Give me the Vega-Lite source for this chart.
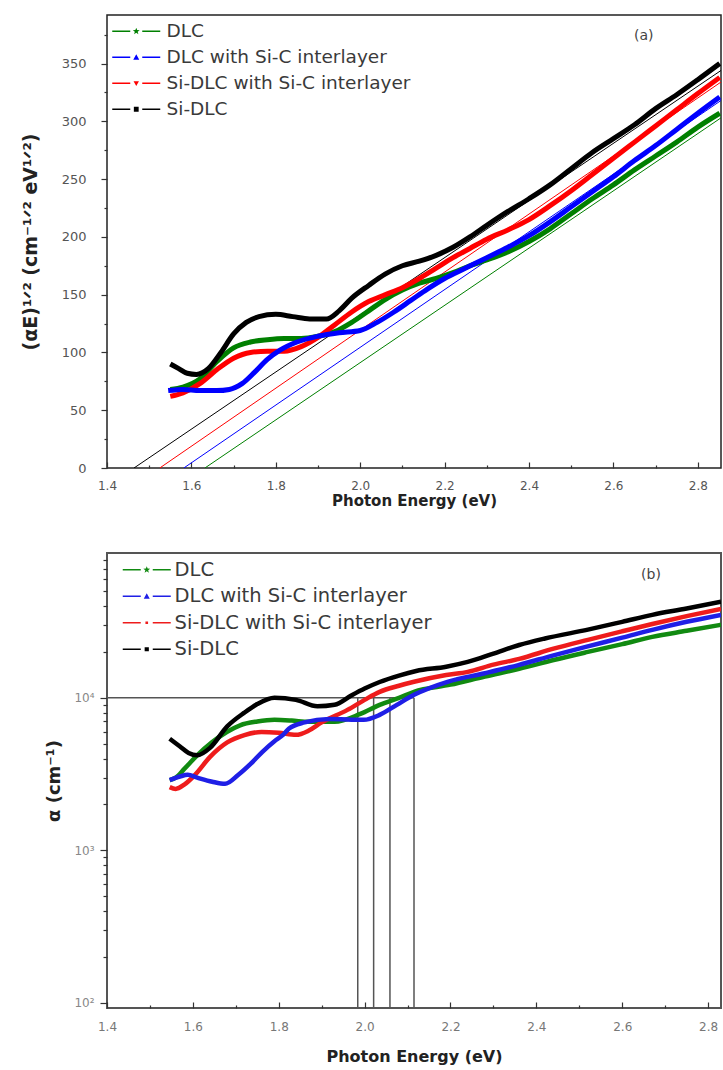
{
"$schema": "https://vega.github.io/schema/vega-lite/v6.json",
"padding": {"left": 20, "top": 14, "right": 0, "bottom": 0},
"background": "white",
"spacing": 43,
"config": {
  "font": "DejaVu Sans",
  "axis": {"domain": false, "grid": false, "labelFont": "DejaVu Sans", "titleFont": "DejaVu Sans", "labelColor": "#555", "titleColor": "#222", "tickColor": "#333", "tickWidth": 1.2, "labelFlush": false, "labelOverlap": false}
},
"resolve": {"scale": {"color": "independent", "shape": "independent", "stroke": "independent"}, "legend": {"color": "independent", "shape": "independent"}},
"datasets": {
  "topfit": [
    {"s": "DLC", "x": 1.632, "y": 0}, {"s": "DLC", "x": 2.855, "y": 303},
    {"s": "Si-DLC with Si-C interlayer", "x": 1.525, "y": 0}, {"s": "Si-DLC with Si-C interlayer", "x": 2.855, "y": 334},
    {"s": "DLC with Si-C interlayer", "x": 1.582, "y": 0}, {"s": "DLC with Si-C interlayer", "x": 2.855, "y": 318},
    {"s": "Si-DLC", "x": 1.464, "y": 0}, {"s": "Si-DLC", "x": 2.855, "y": 344}
  ],
  "top": [
    {"s":"DLC","x":1.55,"y":68},{"s":"DLC","x":1.58,"y":70},{"s":"DLC","x":1.62,"y":77},{"s":"DLC","x":1.66,"y":92},{"s":"DLC","x":1.70,"y":104},{"s":"DLC","x":1.74,"y":109},{"s":"DLC","x":1.78,"y":111},{"s":"DLC","x":1.82,"y":112},{"s":"DLC","x":1.86,"y":112},{"s":"DLC","x":1.90,"y":114},{"s":"DLC","x":1.94,"y":118},{"s":"DLC","x":1.98,"y":126},{"s":"DLC","x":2.02,"y":136},{"s":"DLC","x":2.06,"y":146},{"s":"DLC","x":2.10,"y":154},{"s":"DLC","x":2.14,"y":160},{"s":"DLC","x":2.18,"y":164},{"s":"DLC","x":2.22,"y":169},{"s":"DLC","x":2.26,"y":175},{"s":"DLC","x":2.30,"y":180},{"s":"DLC","x":2.35,"y":187},{"s":"DLC","x":2.40,"y":196},{"s":"DLC","x":2.45,"y":207},{"s":"DLC","x":2.50,"y":220},{"s":"DLC","x":2.55,"y":233},{"s":"DLC","x":2.60,"y":245},{"s":"DLC","x":2.65,"y":258},{"s":"DLC","x":2.70,"y":270},{"s":"DLC","x":2.75,"y":282},{"s":"DLC","x":2.80,"y":295},{"s":"DLC","x":2.852,"y":307},
    {"s":"Si-DLC with Si-C interlayer","x":1.55,"y":62},{"s":"Si-DLC with Si-C interlayer","x":1.58,"y":65},{"s":"Si-DLC with Si-C interlayer","x":1.62,"y":73},{"s":"Si-DLC with Si-C interlayer","x":1.66,"y":85},{"s":"Si-DLC with Si-C interlayer","x":1.70,"y":95},{"s":"Si-DLC with Si-C interlayer","x":1.74,"y":100},{"s":"Si-DLC with Si-C interlayer","x":1.78,"y":101},{"s":"Si-DLC with Si-C interlayer","x":1.82,"y":101},{"s":"Si-DLC with Si-C interlayer","x":1.86,"y":105},{"s":"Si-DLC with Si-C interlayer","x":1.90,"y":113},{"s":"Si-DLC with Si-C interlayer","x":1.94,"y":124},{"s":"Si-DLC with Si-C interlayer","x":1.98,"y":135},{"s":"Si-DLC with Si-C interlayer","x":2.02,"y":144},{"s":"Si-DLC with Si-C interlayer","x":2.06,"y":150},{"s":"Si-DLC with Si-C interlayer","x":2.10,"y":156},{"s":"Si-DLC with Si-C interlayer","x":2.14,"y":164},{"s":"Si-DLC with Si-C interlayer","x":2.18,"y":173},{"s":"Si-DLC with Si-C interlayer","x":2.22,"y":182},{"s":"Si-DLC with Si-C interlayer","x":2.26,"y":190},{"s":"Si-DLC with Si-C interlayer","x":2.30,"y":198},{"s":"Si-DLC with Si-C interlayer","x":2.35,"y":206},{"s":"Si-DLC with Si-C interlayer","x":2.40,"y":215},{"s":"Si-DLC with Si-C interlayer","x":2.45,"y":227},{"s":"Si-DLC with Si-C interlayer","x":2.50,"y":240},{"s":"Si-DLC with Si-C interlayer","x":2.55,"y":254},{"s":"Si-DLC with Si-C interlayer","x":2.60,"y":268},{"s":"Si-DLC with Si-C interlayer","x":2.65,"y":282},{"s":"Si-DLC with Si-C interlayer","x":2.70,"y":296},{"s":"Si-DLC with Si-C interlayer","x":2.75,"y":310},{"s":"Si-DLC with Si-C interlayer","x":2.80,"y":324},{"s":"Si-DLC with Si-C interlayer","x":2.852,"y":338},
    {"s":"DLC with Si-C interlayer","x":1.545,"y":67},{"s":"DLC with Si-C interlayer","x":1.58,"y":68},{"s":"DLC with Si-C interlayer","x":1.62,"y":67},{"s":"DLC with Si-C interlayer","x":1.66,"y":67},{"s":"DLC with Si-C interlayer","x":1.69,"y":68},{"s":"DLC with Si-C interlayer","x":1.72,"y":73},{"s":"DLC with Si-C interlayer","x":1.75,"y":83},{"s":"DLC with Si-C interlayer","x":1.78,"y":94},{"s":"DLC with Si-C interlayer","x":1.81,"y":102},{"s":"DLC with Si-C interlayer","x":1.85,"y":109},{"s":"DLC with Si-C interlayer","x":1.90,"y":114},{"s":"DLC with Si-C interlayer","x":1.95,"y":117},{"s":"DLC with Si-C interlayer","x":2.00,"y":119},{"s":"DLC with Si-C interlayer","x":2.04,"y":126},{"s":"DLC with Si-C interlayer","x":2.08,"y":135},{"s":"DLC with Si-C interlayer","x":2.12,"y":145},{"s":"DLC with Si-C interlayer","x":2.16,"y":155},{"s":"DLC with Si-C interlayer","x":2.20,"y":164},{"s":"DLC with Si-C interlayer","x":2.25,"y":173},{"s":"DLC with Si-C interlayer","x":2.30,"y":182},{"s":"DLC with Si-C interlayer","x":2.35,"y":191},{"s":"DLC with Si-C interlayer","x":2.40,"y":201},{"s":"DLC with Si-C interlayer","x":2.45,"y":213},{"s":"DLC with Si-C interlayer","x":2.50,"y":226},{"s":"DLC with Si-C interlayer","x":2.55,"y":239},{"s":"DLC with Si-C interlayer","x":2.60,"y":252},{"s":"DLC with Si-C interlayer","x":2.65,"y":266},{"s":"DLC with Si-C interlayer","x":2.70,"y":279},{"s":"DLC with Si-C interlayer","x":2.75,"y":293},{"s":"DLC with Si-C interlayer","x":2.80,"y":307},{"s":"DLC with Si-C interlayer","x":2.852,"y":321},
    {"s":"Si-DLC","x":1.55,"y":90},{"s":"Si-DLC","x":1.57,"y":86},{"s":"Si-DLC","x":1.59,"y":82},{"s":"Si-DLC","x":1.612,"y":81},{"s":"Si-DLC","x":1.64,"y":86},{"s":"Si-DLC","x":1.67,"y":100},{"s":"Si-DLC","x":1.70,"y":116},{"s":"Si-DLC","x":1.73,"y":126},{"s":"Si-DLC","x":1.76,"y":131},{"s":"Si-DLC","x":1.80,"y":133},{"s":"Si-DLC","x":1.84,"y":131},{"s":"Si-DLC","x":1.88,"y":129},{"s":"Si-DLC","x":1.92,"y":129},{"s":"Si-DLC","x":1.95,"y":136},{"s":"Si-DLC","x":1.98,"y":147},{"s":"Si-DLC","x":2.02,"y":158},{"s":"Si-DLC","x":2.06,"y":168},{"s":"Si-DLC","x":2.10,"y":175},{"s":"Si-DLC","x":2.14,"y":179},{"s":"Si-DLC","x":2.18,"y":184},{"s":"Si-DLC","x":2.22,"y":191},{"s":"Si-DLC","x":2.26,"y":200},{"s":"Si-DLC","x":2.30,"y":210},{"s":"Si-DLC","x":2.35,"y":222},{"s":"Si-DLC","x":2.40,"y":233},{"s":"Si-DLC","x":2.45,"y":245},{"s":"Si-DLC","x":2.50,"y":259},{"s":"Si-DLC","x":2.55,"y":273},{"s":"Si-DLC","x":2.60,"y":285},{"s":"Si-DLC","x":2.65,"y":297},{"s":"Si-DLC","x":2.70,"y":311},{"s":"Si-DLC","x":2.75,"y":323},{"s":"Si-DLC","x":2.80,"y":336},{"s":"Si-DLC","x":2.852,"y":350}
  ],
  "bot": [
    {"s":"DLC","x":1.546,"y":2890},{"s":"DLC","x":1.56,"y":3000},{"s":"DLC","x":1.58,"y":3420},{"s":"DLC","x":1.61,"y":4200},{"s":"DLC","x":1.645,"y":5130},{"s":"DLC","x":1.68,"y":6000},{"s":"DLC","x":1.71,"y":6610},{"s":"DLC","x":1.75,"y":7000},{"s":"DLC","x":1.79,"y":7180},{"s":"DLC","x":1.83,"y":7100},{"s":"DLC","x":1.87,"y":6960},{"s":"DLC","x":1.93,"y":6960},{"s":"DLC","x":1.99,"y":7850},{"s":"DLC","x":2.035,"y":9000},{"s":"DLC","x":2.08,"y":10000},{"s":"DLC","x":2.115,"y":10950},{"s":"DLC","x":2.20,"y":12200},{"s":"DLC","x":2.28,"y":13800},{"s":"DLC","x":2.36,"y":15500},{"s":"DLC","x":2.44,"y":17700},{"s":"DLC","x":2.52,"y":20000},{"s":"DLC","x":2.60,"y":22500},{"s":"DLC","x":2.67,"y":25100},{"s":"DLC","x":2.75,"y":27500},{"s":"DLC","x":2.83,"y":30100},
    {"s":"Si-DLC with Si-C interlayer","x":1.546,"y":2600},{"s":"Si-DLC with Si-C interlayer","x":1.56,"y":2530},{"s":"Si-DLC with Si-C interlayer","x":1.58,"y":2700},{"s":"Si-DLC with Si-C interlayer","x":1.605,"y":3130},{"s":"Si-DLC with Si-C interlayer","x":1.64,"y":4100},{"s":"Si-DLC with Si-C interlayer","x":1.68,"y":5100},{"s":"Si-DLC with Si-C interlayer","x":1.72,"y":5700},{"s":"Si-DLC with Si-C interlayer","x":1.76,"y":5980},{"s":"Si-DLC with Si-C interlayer","x":1.80,"y":5900},{"s":"Si-DLC with Si-C interlayer","x":1.84,"y":5720},{"s":"Si-DLC with Si-C interlayer","x":1.87,"y":6100},{"s":"Si-DLC with Si-C interlayer","x":1.90,"y":6900},{"s":"Si-DLC with Si-C interlayer","x":1.96,"y":8340},{"s":"Si-DLC with Si-C interlayer","x":2.00,"y":9700},{"s":"Si-DLC with Si-C interlayer","x":2.035,"y":10950},{"s":"Si-DLC with Si-C interlayer","x":2.08,"y":12000},{"s":"Si-DLC with Si-C interlayer","x":2.115,"y":12740},{"s":"Si-DLC with Si-C interlayer","x":2.19,"y":14100},{"s":"Si-DLC with Si-C interlayer","x":2.24,"y":14800},{"s":"Si-DLC with Si-C interlayer","x":2.30,"y":16500},{"s":"Si-DLC with Si-C interlayer","x":2.36,"y":18000},{"s":"Si-DLC with Si-C interlayer","x":2.44,"y":21000},{"s":"Si-DLC with Si-C interlayer","x":2.52,"y":24000},{"s":"Si-DLC with Si-C interlayer","x":2.60,"y":27300},{"s":"Si-DLC with Si-C interlayer","x":2.67,"y":30500},{"s":"Si-DLC with Si-C interlayer","x":2.75,"y":34300},{"s":"Si-DLC with Si-C interlayer","x":2.83,"y":38300},
    {"s":"DLC with Si-C interlayer","x":1.546,"y":2890},{"s":"DLC with Si-C interlayer","x":1.57,"y":3050},{"s":"DLC with Si-C interlayer","x":1.588,"y":3130},{"s":"DLC with Si-C interlayer","x":1.61,"y":3000},{"s":"DLC with Si-C interlayer","x":1.645,"y":2820},{"s":"DLC with Si-C interlayer","x":1.675,"y":2730},{"s":"DLC with Si-C interlayer","x":1.706,"y":3130},{"s":"DLC with Si-C interlayer","x":1.735,"y":3700},{"s":"DLC with Si-C interlayer","x":1.762,"y":4430},{"s":"DLC with Si-C interlayer","x":1.79,"y":5200},{"s":"DLC with Si-C interlayer","x":1.81,"y":5720},{"s":"DLC with Si-C interlayer","x":1.824,"y":6300},{"s":"DLC with Si-C interlayer","x":1.86,"y":6900},{"s":"DLC with Si-C interlayer","x":1.918,"y":7270},{"s":"DLC with Si-C interlayer","x":1.998,"y":7180},{"s":"DLC with Si-C interlayer","x":2.035,"y":7730},{"s":"DLC with Si-C interlayer","x":2.075,"y":9000},{"s":"DLC with Si-C interlayer","x":2.115,"y":10460},{"s":"DLC with Si-C interlayer","x":2.193,"y":12740},{"s":"DLC with Si-C interlayer","x":2.28,"y":14500},{"s":"DLC with Si-C interlayer","x":2.358,"y":16400},{"s":"DLC with Si-C interlayer","x":2.44,"y":19000},{"s":"DLC with Si-C interlayer","x":2.515,"y":21600},{"s":"DLC with Si-C interlayer","x":2.60,"y":24800},{"s":"DLC with Si-C interlayer","x":2.67,"y":27900},{"s":"DLC with Si-C interlayer","x":2.75,"y":31500},{"s":"DLC with Si-C interlayer","x":2.83,"y":35000},
    {"s":"Si-DLC","x":1.546,"y":5400},{"s":"Si-DLC","x":1.57,"y":4800},{"s":"Si-DLC","x":1.59,"y":4350},{"s":"Si-DLC","x":1.61,"y":4200},{"s":"Si-DLC","x":1.64,"y":4700},{"s":"Si-DLC","x":1.68,"y":6500},{"s":"Si-DLC","x":1.72,"y":8000},{"s":"Si-DLC","x":1.75,"y":9100},{"s":"Si-DLC","x":1.79,"y":10000},{"s":"Si-DLC","x":1.84,"y":9700},{"s":"Si-DLC","x":1.89,"y":8800},{"s":"Si-DLC","x":1.93,"y":9000},{"s":"Si-DLC","x":1.97,"y":10400},{"s":"Si-DLC","x":2.00,"y":11500},{"s":"Si-DLC","x":2.035,"y":12700},{"s":"Si-DLC","x":2.08,"y":14000},{"s":"Si-DLC","x":2.12,"y":15000},{"s":"Si-DLC","x":2.19,"y":16000},{"s":"Si-DLC","x":2.24,"y":17200},{"s":"Si-DLC","x":2.30,"y":19500},{"s":"Si-DLC","x":2.36,"y":22200},{"s":"Si-DLC","x":2.42,"y":24500},{"s":"Si-DLC","x":2.52,"y":28000},{"s":"Si-DLC","x":2.60,"y":31500},{"s":"Si-DLC","x":2.67,"y":35000},{"s":"Si-DLC","x":2.75,"y":38500},{"s":"Si-DLC","x":2.83,"y":42700}
  ],
  "rules": [
    {"x1": 1.4, "x2": 2.115, "y1": 10000, "y2": 10000},
    {"x1": 1.984, "x2": 1.984, "y1": 90, "y2": 10000},
    {"x1": 2.021, "x2": 2.021, "y1": 90, "y2": 10000},
    {"x1": 2.059, "x2": 2.059, "y1": 90, "y2": 10000},
    {"x1": 2.115, "x2": 2.115, "y1": 90, "y2": 10000}
  ]
},
"vconcat": [
  {
    "width": 614, "height": 453,
    "view": {"stroke": "#222", "strokeWidth": 1.5},
    "resolve": {"axis": {"x": "independent", "y": "independent"}},
    "layer": [
      {"data": {"name": "topfit"}, "mark": {"type": "line", "strokeWidth": 1, "clip": true},
       "encoding": {
         "x": {"field": "x", "type": "quantitative", "scale": {"domain": [1.4, 2.855], "nice": false, "zero": false}, "axis": null},
         "y": {"field": "y", "type": "quantitative", "scale": {"domain": [0, 392], "nice": false, "zero": false}, "axis": null},
         "stroke": {"field": "s", "type": "nominal", "scale": {"domain": ["Si-DLC", "Si-DLC with Si-C interlayer", "DLC with Si-C interlayer", "DLC"], "range": ["#000000", "#ff0000", "#0000ff", "#008000"]}, "legend": null}
       }},
      {"data": {"name": "top"}, "mark": {"type": "line", "strokeWidth": 5, "interpolate": "monotone", "clip": true},
       "encoding": {
         "x": {"field": "x", "type": "quantitative", "scale": {"domain": [1.4, 2.855], "nice": false, "zero": false},
               "axis": {"orient": "bottom", "title": "Photon Energy (eV)", "titleFontSize": 15, "titleFontWeight": "bold", "titlePadding": 2,
                        "values": [1.4,1.6,1.8,2.0,2.2,2.4,2.6,2.8], "format": ".1f",
                        "labelFontSize": 12, "labelPadding": 18, "tickSize": -6}},
         "y": {"field": "y", "type": "quantitative", "scale": {"domain": [0, 392], "nice": false, "zero": false},
               "axis": {"orient": "left", "title": "(αE)¹ᐟ² (cm⁻¹ᐟ² eV¹ᐟ²)", "titleFontSize": 19, "titleFontWeight": "bold", "titlePadding": 21,
                        "values": [0,50,100,150,200,250,300,350],
                        "labelFontSize": 13, "labelPadding": 15, "tickSize": 6}},
         "stroke": {"field": "s", "type": "nominal", "scale": {"domain": ["Si-DLC", "Si-DLC with Si-C interlayer", "DLC with Si-C interlayer", "DLC"], "range": ["#000000", "#ff0000", "#0000ff", "#008000"]}, "legend": null}
       }},
      {"data": {"name": "top"}, "mark": {"type": "point", "filled": true, "opacity": 0},
       "encoding": {
         "x": {"field": "x", "type": "quantitative", "scale": {"domain": [1.4, 2.855], "nice": false, "zero": false}, "axis": null},
         "y": {"field": "y", "type": "quantitative", "scale": {"domain": [0, 392], "nice": false, "zero": false}, "axis": null},
         "color": {"field": "s", "type": "nominal", "scale": {"domain": ["DLC", "DLC with Si-C interlayer", "Si-DLC with Si-C interlayer", "Si-DLC"], "range": ["#008000", "#0000ff", "#ff0000", "#000000"]},
                   "legend": {"title": null, "orient": "none", "legendX": 20, "legendY": 7, "symbolSize": 144, "symbolOpacity": 1, "labelFontSize": 18.5, "labelColor": "#3a3a3a", "labelOffset": 21, "rowPadding": 7, "padding": 0, "symbolStrokeWidth": 0, "labelFont": "DejaVu Sans", "labelLimit": 400}},
         "shape": {"field": "s", "type": "nominal", "scale": {"domain": ["DLC", "DLC with Si-C interlayer", "Si-DLC with Si-C interlayer", "Si-DLC"],
                   "range": ["M-4,-0.12H-1V0.12H-4Z M1,-0.12H4V0.12H1Z M0,-0.6L0.147,-0.202L0.571,-0.185L0.238,0.077L0.353,0.485L0,0.25L-0.353,0.485L-0.238,0.077L-0.571,-0.185L-0.147,-0.202Z",
                             "M-4,-0.12H-1V0.12H-4Z M1,-0.12H4V0.12H1Z M0,-0.5L0.5,0.4H-0.5Z",
                             "M-4,-0.12H-1V0.12H-4Z M1,-0.12H4V0.12H1Z M-0.45,-0.35H0.45L0,0.45Z",
                             "M-4,-0.12H-1V0.12H-4Z M1,-0.12H4V0.12H1Z M-0.4,-0.4H0.4V0.4H-0.4Z"]},
                   "legend": {"title": null, "orient": "none", "legendX": 20, "legendY": 7, "symbolSize": 144, "symbolOpacity": 1, "labelFontSize": 18.5, "labelColor": "#3a3a3a", "labelOffset": 21, "rowPadding": 7, "padding": 0, "symbolStrokeWidth": 0, "labelFont": "DejaVu Sans", "labelLimit": 400}}
       }},
      {"data": {"values": [{"x": 2.672, "y": 374, "t": "(a)"}]}, "mark": {"type": "text", "fontSize": 14, "color": "#444", "font": "DejaVu Sans"},
       "encoding": {
         "x": {"field": "x", "type": "quantitative", "scale": {"domain": [1.4, 2.855], "nice": false, "zero": false},
               "axis": {"orient": "bottom", "title": null, "labels": false, "values": [1.5,1.7,1.9,2.1,2.3,2.5,2.7], "tickSize": -3}},
         "y": {"field": "y", "type": "quantitative", "scale": {"domain": [0, 392], "nice": false, "zero": false},
               "axis": {"orient": "left", "title": null, "labels": false, "values": [25,75,125,175,225,275,325,375], "tickSize": 3}},
         "text": {"field": "t"}
       }}
    ]
  },
  {
    "width": 614, "height": 455,
    "view": {"stroke": "#555", "strokeWidth": 2},
    "resolve": {"axis": {"x": "independent", "y": "independent"}},
    "layer": [
      {"data": {"name": "rules"}, "mark": {"type": "rule", "color": "#555", "strokeWidth": 1.5, "clip": true},
       "encoding": {
         "x": {"field": "x1", "type": "quantitative", "scale": {"domain": [1.4, 2.83], "nice": false, "zero": false}, "axis": null},
         "x2": {"field": "x2"},
         "y": {"field": "y1", "type": "quantitative", "scale": {"type": "log", "domain": [92.7, 89000], "nice": false}, "axis": null},
         "y2": {"field": "y2"}
       }},
      {"data": {"name": "bot"}, "mark": {"type": "line", "strokeWidth": 4.5, "interpolate": "monotone", "clip": true},
       "encoding": {
         "x": {"field": "x", "type": "quantitative", "scale": {"domain": [1.4, 2.83], "nice": false, "zero": false},
               "axis": {"orient": "bottom", "title": "Photon Energy (eV)", "titleFontSize": 16, "titleFontWeight": "bold", "titlePadding": 16,
                        "values": [1.4,1.6,1.8,2.0,2.2,2.4,2.6,2.8], "format": ".1f",
                        "labelFontSize": 12, "labelColor": "#777", "labelPadding": 19, "tickSize": -6}},
         "y": {"field": "y", "type": "quantitative", "scale": {"type": "log", "domain": [92.7, 89000], "nice": false},
               "axis": {"orient": "left", "title": "α (cm⁻¹)", "titleFontSize": 18, "titleFontWeight": "bold", "titlePadding": 10,
                        "values": [100,1000,10000],
                        "labelExpr": "datum.value == 100 ? '10²' : datum.value == 1000 ? '10³' : '10⁴'",
                        "labelFontSize": 12, "labelColor": "#888", "labelPadding": 6, "tickSize": 7}},
         "stroke": {"field": "s", "type": "nominal", "scale": {"domain": ["Si-DLC", "Si-DLC with Si-C interlayer", "DLC with Si-C interlayer", "DLC"], "range": ["#000000", "#ee1c1c", "#1f1fe6", "#118a11"]}, "legend": null}
       }},
      {"data": {"name": "bot"}, "mark": {"type": "point", "filled": true, "opacity": 0},
       "encoding": {
         "x": {"field": "x", "type": "quantitative", "scale": {"domain": [1.4, 2.83], "nice": false, "zero": false}, "axis": null},
         "y": {"field": "y", "type": "quantitative", "scale": {"type": "log", "domain": [92.7, 89000], "nice": false}, "axis": null},
         "color": {"field": "s", "type": "nominal", "scale": {"domain": ["DLC", "DLC with Si-C interlayer", "Si-DLC with Si-C interlayer", "Si-DLC"], "range": ["#118a11", "#1f1fe6", "#ee1c1c", "#000000"]},
                   "legend": {"title": null, "orient": "none", "legendX": 30, "legendY": 7, "symbolSize": 144, "symbolOpacity": 1, "labelFontSize": 19.5, "labelColor": "#3a3a3a", "labelOffset": 18, "rowPadding": 5.5, "padding": 0, "symbolStrokeWidth": 0, "labelFont": "DejaVu Sans", "labelLimit": 400}},
         "shape": {"field": "s", "type": "nominal", "scale": {"domain": ["DLC", "DLC with Si-C interlayer", "Si-DLC with Si-C interlayer", "Si-DLC"],
                   "range": ["M-4,-0.12H-1V0.12H-4Z M1,-0.12H4V0.12H1Z M0,-0.6L0.147,-0.202L0.571,-0.185L0.238,0.077L0.353,0.485L0,0.25L-0.353,0.485L-0.238,0.077L-0.571,-0.185L-0.147,-0.202Z",
                             "M-4,-0.12H-1V0.12H-4Z M1,-0.12H4V0.12H1Z M0,-0.5L0.5,0.4H-0.5Z",
                             "M-4,-0.12H-1V0.12H-4Z M1,-0.12H4V0.12H1Z M-0.22,-0.22H0.22V0.22H-0.22Z",
                             "M-4,-0.12H-1V0.12H-4Z M1,-0.12H4V0.12H1Z M-0.35,-0.35H0.35V0.35H-0.35Z"]},
                   "legend": {"title": null, "orient": "none", "legendX": 30, "legendY": 7, "symbolSize": 144, "symbolOpacity": 1, "labelFontSize": 19.5, "labelColor": "#3a3a3a", "labelOffset": 18, "rowPadding": 5.5, "padding": 0, "symbolStrokeWidth": 0, "labelFont": "DejaVu Sans", "labelLimit": 400}}
       }},
      {"data": {"values": [{"x": 2.667, "y": 64100, "t": "(b)"}]}, "mark": {"type": "text", "fontSize": 14, "color": "#444", "font": "DejaVu Sans"},
       "encoding": {
         "x": {"field": "x", "type": "quantitative", "scale": {"domain": [1.4, 2.83], "nice": false, "zero": false},
               "axis": {"orient": "bottom", "title": null, "labels": false, "values": [1.5,1.7,1.9,2.1,2.3,2.5,2.7], "tickSize": -3}},
         "y": {"field": "y", "type": "quantitative", "scale": {"type": "log", "domain": [92.7, 89000], "nice": false},
               "axis": {"orient": "left", "title": null, "labels": false, "values": [200,300,400,500,600,700,800,900,2000,3000,4000,5000,6000,7000,8000,9000,20000,30000,40000,50000,60000,70000,80000], "tickSize": 4}},
         "text": {"field": "t"}
       }}
    ]
  }
]
}
